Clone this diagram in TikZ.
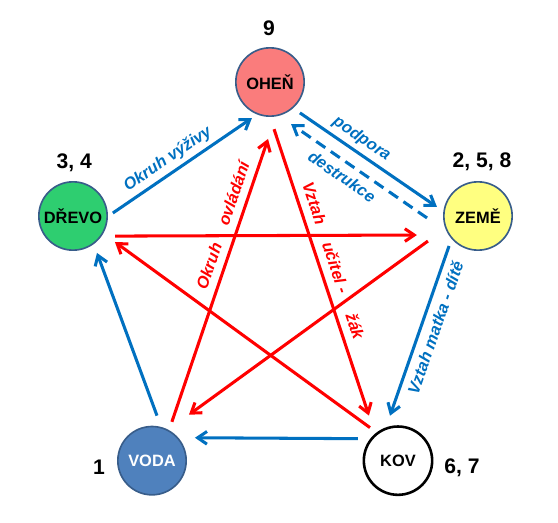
\documentclass[tikz,border=0pt]{standalone}
\usepackage{fontspec}
\setmainfont{Liberation Sans}
\usetikzlibrary{arrows.meta,calc}
\definecolor{firesalmon}{RGB}{250,124,124}
\definecolor{woodgreen}{RGB}{46,206,112}
\definecolor{earthyellow}{RGB}{255,255,128}
\definecolor{waterblue}{RGB}{79,129,189}
\definecolor{outlineblue}{RGB}{56,93,138}
\definecolor{flowblue}{RGB}{0,112,192}
\definecolor{starred}{RGB}{255,0,0}

\begin{document}
\begin{tikzpicture}[
  >={Straight Barb[length=2.8mm, width=3.8mm]},
  element/.style={circle, draw=outlineblue, line width=1.4pt, minimum size=2.05cm,
    inner sep=0pt, font=\fontsize{14}{16}\selectfont\bfseries},
  number/.style={anchor=base, font=\fontsize{18}{20}\selectfont\bfseries},
  bluearrow/.style={->, draw=flowblue, line width=2.6pt},
  redarrow/.style={->, draw=starred, line width=2.6pt},
  dashedarrow/.style={bluearrow, dash pattern=on 3.3mm off 2mm},
  bluelabel/.style={sloped, inner sep=0pt, outer sep=5pt, text=flowblue,
    text height=10pt, text depth=2.8pt, font=\fontsize{14}{16}\selectfont\bfseries\itshape},
  redlabel/.style={bluelabel, text=starred},
  farside/.style={below, outer sep=7pt}
]
\useasboundingbox (0,0) rectangle (16.74,15.66);

% The five elements.
\node[element, fill=firesalmon] (ohen) at (8.10,13.20) {OHEŇ};
\node[element, fill=woodgreen] (drevo) at (2.19,9.18) {DŘEVO};
\node[element, fill=earthyellow] (zeme) at (14.34,9.18) {ZEMĚ};
\node[element, fill=waterblue, text=white] (voda) at (4.56,1.84) {VODA};
\node[element, fill=white, draw=black, line width=2.2pt] (kov) at (11.94,1.84) {KOV};

% Numbers.
\node[number] (n9) at (8.07,14.58) {9};
\node[number] (n34) at (2.23,10.62) {3, 4};
\node[number] (n258) at (14.46,10.65) {2, 5, 8};
\node[number] (n1) at (2.97,1.44) {1};
\node[number] (n67) at (13.86,1.47) {6, 7};

% Nourishing cycle.
\draw[bluearrow] ($(drevo)+(4.3:1.20)$) -- node[bluelabel, pos=0.45, above]
  {Okruh výživy} ($(ohen)+(243.4:1.21)$);
\draw[bluearrow] ($(ohen)+(314.1:1.29)$) -- node[bluelabel, pos=0.395, above]
  {podpora} ($(zeme)+(167.6:1.26)$);
\draw[dashedarrow] ($(zeme)+(182.2:1.53)$) -- node[bluelabel, pos=0.566, farside]
  {destrukce} ($(ohen)+(296.6:1.41)$);
\draw[bluearrow] ($(zeme)+(226:1.25)$) -- node[bluelabel, pos=0.456, farside]
  {Vztah matka - dítě} ($(kov)+(100.1:1.37)$);
\draw[bluearrow] ($(kov)+(151.2:1.37)$) -- ($(voda)+(28.1:1.46)$);
\draw[bluearrow] ($(voda)+(83.7:1.36)$) -- ($(drevo)+(303:1.32)$);

% Controlling star.
\draw[redarrow] ($(voda)+(62.9:1.31)$) --
  node[redlabel, pos=0.533, above] {Okruh}
  node[redlabel, pos=0.79, above] {ovládání} ($(ohen)+(268:1.71)$);
\draw[redarrow] ($(ohen)+(274.9:1.42)$) --
  node[redlabel, pos=0.276, above] {Vztah}
  node[redlabel, pos=0.50, above] {učitel -}
  node[redlabel, pos=0.704, above] {žák} ($(kov)+(122.8:1.61)$);
\draw[redarrow] ($(kov)+(130.3:1.30)$) -- ($(drevo)+(328.2:1.48)$);
\draw[redarrow] ($(drevo)+(334.5:1.40)$) -- ($(zeme)+(197.3:1.92)$);
\draw[redarrow] ($(zeme)+(206.6:1.68)$) -- ($(voda)+(51.2:1.77)$);

\end{tikzpicture}
\end{document}
